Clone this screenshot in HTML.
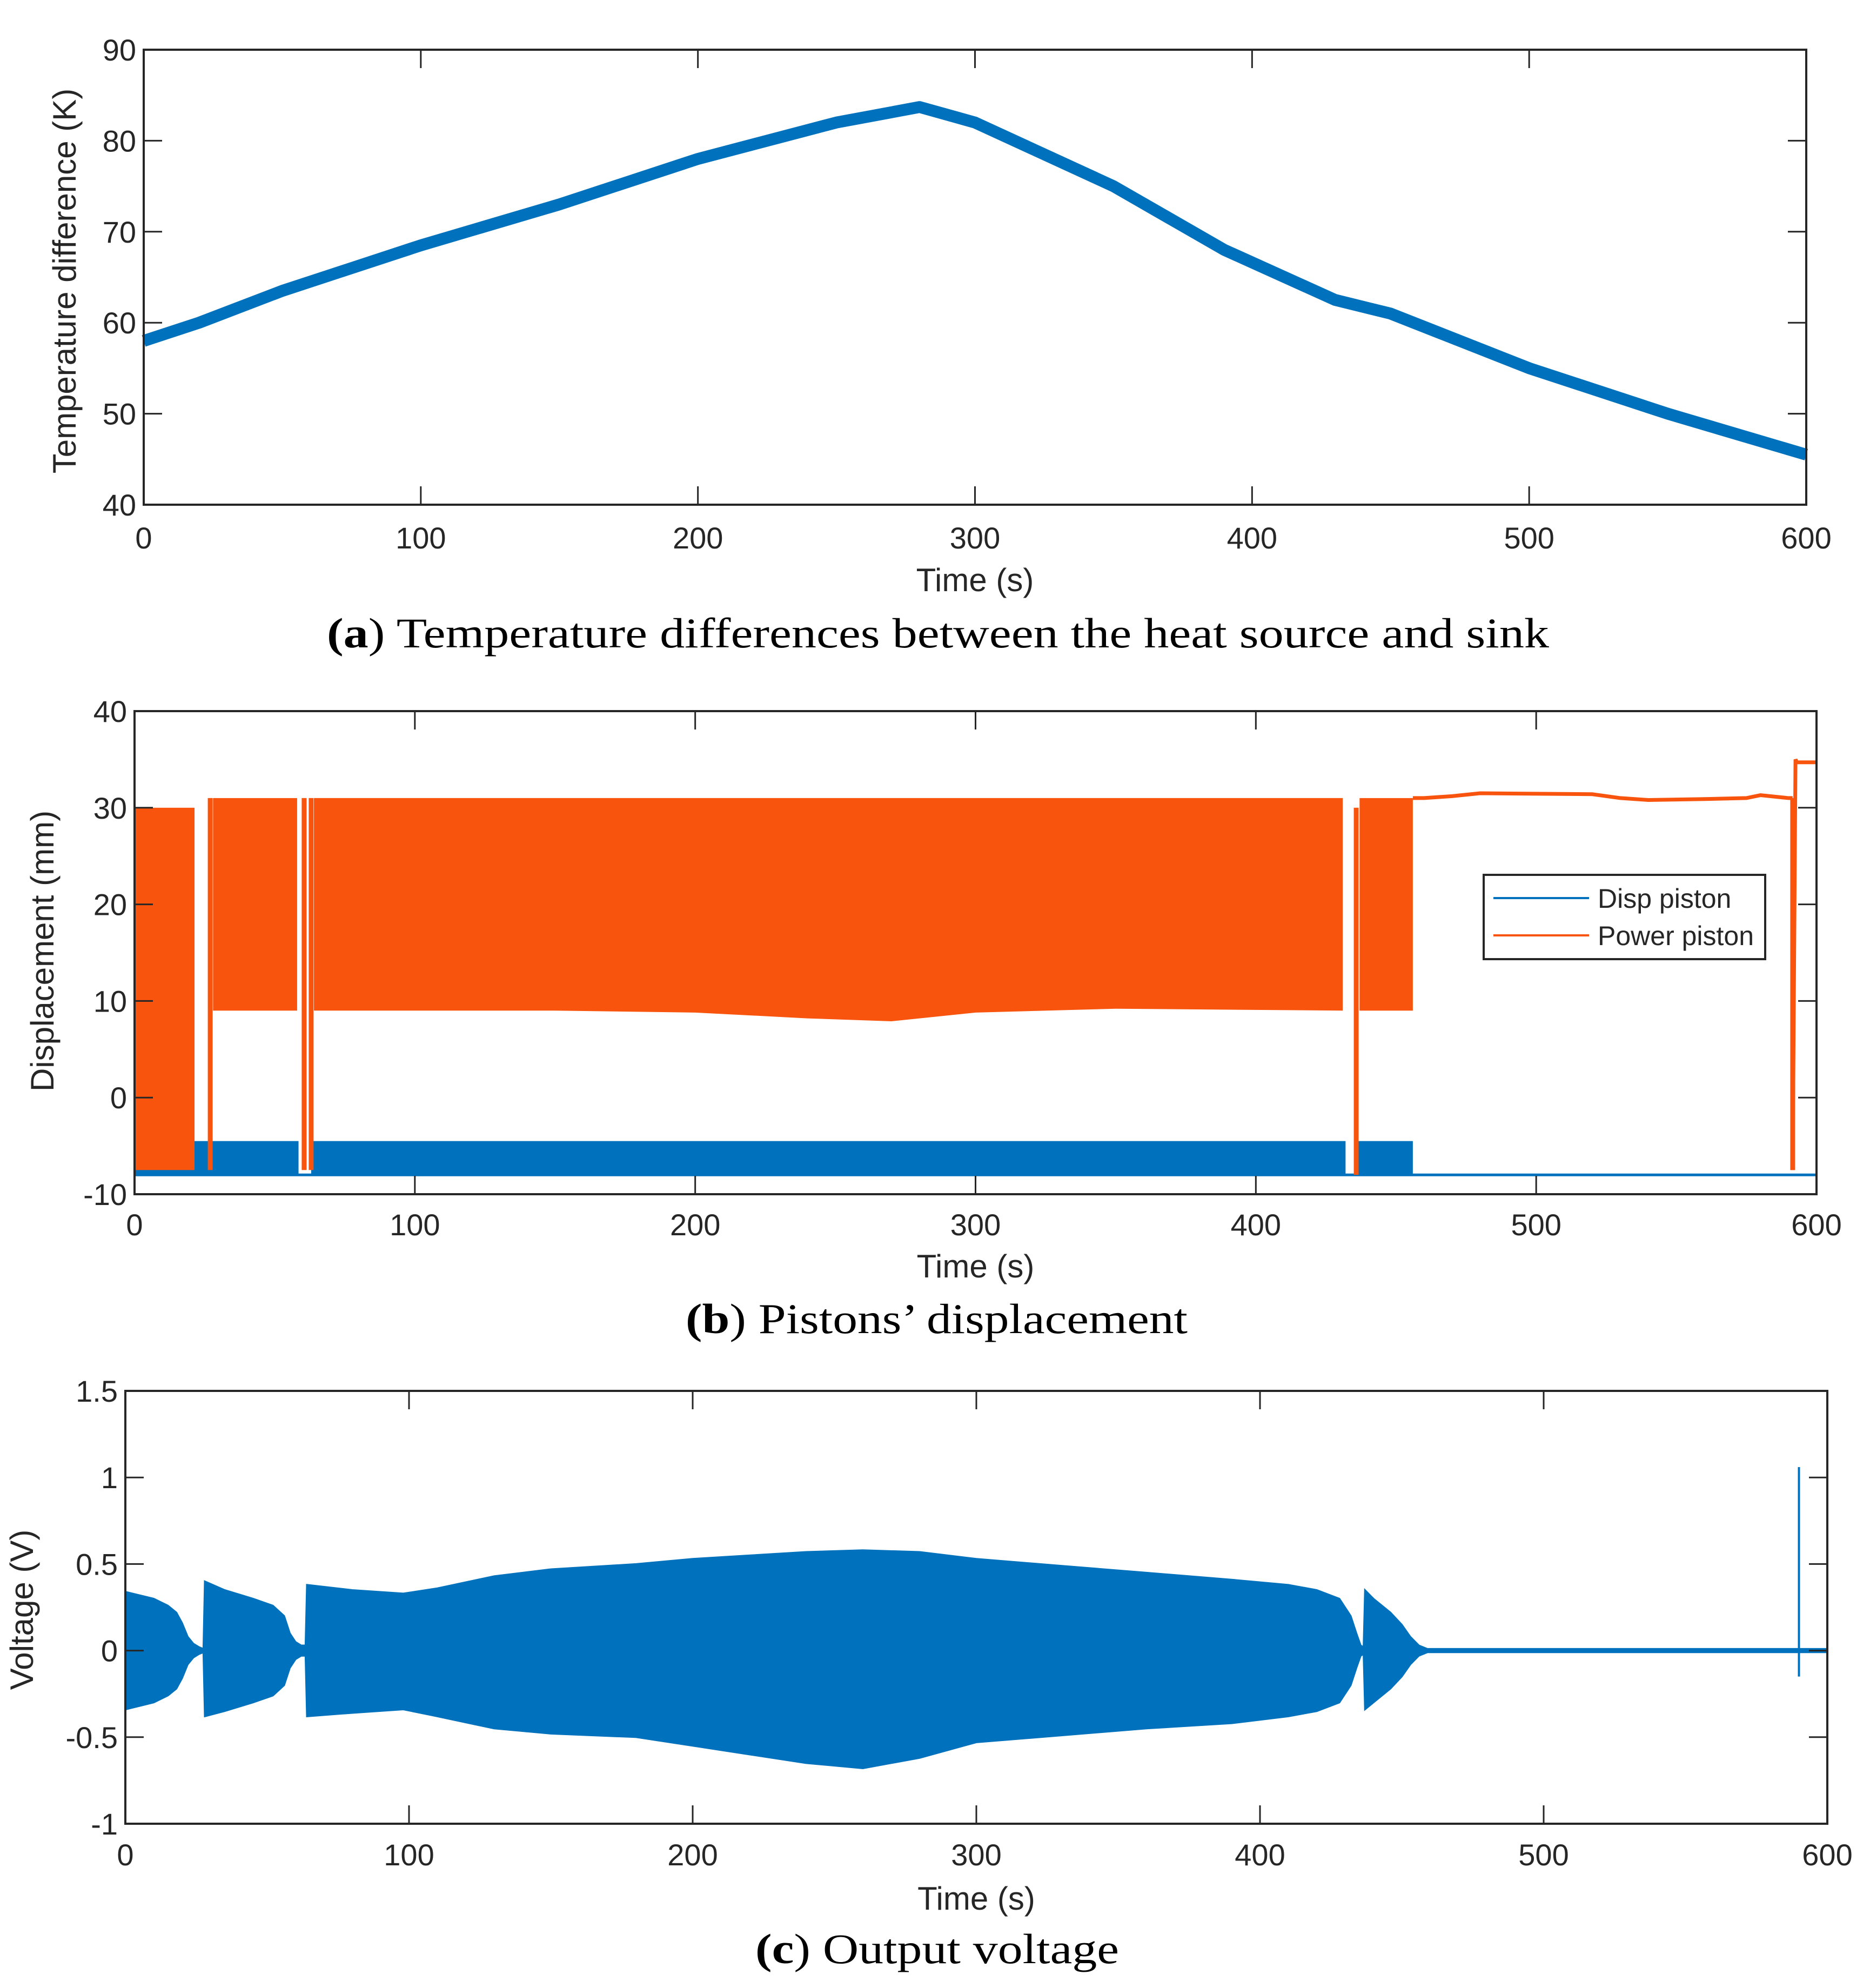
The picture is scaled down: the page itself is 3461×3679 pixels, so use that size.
<!DOCTYPE html>
<html><head><meta charset="utf-8"><style>
html,body{margin:0;padding:0;background:#fff;}
svg{display:block;}
text{font-family:"Liberation Sans",Arial,sans-serif;fill:#262626;}
.cap{font-family:"Liberation Serif",serif;fill:#000;font-size:78px;}
</style></head><body>
<svg id="fig" width="3461" height="3679" viewBox="0 0 3461 3679" xmlns="http://www.w3.org/2000/svg">
<rect width="3461" height="3679" fill="#fff"/>
<g id="pa"></g>
<g id="pb"></g>
<g id="pc"></g>
<text class="cap" x="605" y="1198" textLength="2262" lengthAdjust="spacingAndGlyphs"><tspan font-weight="bold">(a</tspan>) Temperature differences between the heat source and sink</text>
<text class="cap" x="1269" y="2467" textLength="929" lengthAdjust="spacingAndGlyphs"><tspan font-weight="bold">(b</tspan>) Pistons’ displacement</text>
<text class="cap" x="1398" y="3633" textLength="673" lengthAdjust="spacingAndGlyphs"><tspan font-weight="bold">(c</tspan>) Output voltage</text>
</svg>
<script>
// ---- Panel A data ----
const aTime = [0,20,50,100,150,200,250,280,300,350,390,430,450,500,550,600];
const aTemp = [58,60,63.5,68.5,73,78,82,83.7,82,75,68,62.5,61,55,50,45.5];
const aXTicks = [0,100,200,300,400,500,600];
const aYTicks = [40,50,60,70,80,90];
// ---- Panel B data ----
const bPowerSegStart = [0,28,437];
const bPowerSegEnd = [21.4,58,456];
const bPowerSegHi = [30,31,31];
const bPowerSegLo = [-7.5,9,9];
const bPowerMidT = [64,150,200,240,270,300,350,431];
const bPowerMidLo = [9,9,8.8,8.2,7.9,8.8,9.2,9];
const bPowerMidHi = [31,31,31,31,31,31,31,31];
const bPowerSpikeT = [27,60.5,63,435.8,591.5];
const bPowerSpikeLo = [-7.5,-7.5,-7.5,-8,-7.5];
const bPowerSpikeHi = [31,31,31,30,31];
const bPowerTailT = [456,460,470,480,520,530,540,560,575,580,590,591.5];
const bPowerTailV = [31,31,31.2,31.5,31.4,31,30.8,30.9,31,31.3,31,31];
const bPowerEndT = [592.5,593,600];
const bPowerEndV = [35,34.7,34.7];
const bDispSegStart = [0,63,436];
const bDispSegEnd = [58.5,432,456];
const bDispHi = [-4.5,-4.5,-4.5];
const bDispLo = [-8,-8,-8];
const bDispLineT = [0,456,600];
const bDispLineV = [-8,-8,-8];
const bXTicks = [0,100,200,300,400,500,600];
const bYTicks = [-10,0,10,20,30,40];
// ---- Panel C data ----
const cTime = [0,5,10,15,18,20,22,24,26,27.5,28,35,45,52,56,58,60,62,63.5,64,80,98,110,130,150,180,200,220,240,260,280,300,330,360,390,410,420,428,432,434,435.5,436.5,437,440,446,450,453,456,459,462,600];
const cUpper = [0.34,0.32,0.3,0.26,0.22,0.16,0.08,0.04,0.02,0.01,0.4,0.35,0.3,0.26,0.2,0.1,0.05,0.03,0.03,0.38,0.35,0.33,0.36,0.43,0.47,0.5,0.53,0.55,0.57,0.58,0.57,0.53,0.49,0.45,0.41,0.38,0.35,0.3,0.2,0.1,0.03,0.02,0.35,0.3,0.22,0.15,0.08,0.03,0.01,0.01,0.01];
const cLower = [-0.34,-0.32,-0.3,-0.26,-0.22,-0.16,-0.08,-0.04,-0.02,-0.01,-0.38,-0.35,-0.3,-0.26,-0.2,-0.1,-0.05,-0.03,-0.03,-0.38,-0.36,-0.34,-0.38,-0.45,-0.48,-0.5,-0.55,-0.6,-0.65,-0.68,-0.62,-0.53,-0.49,-0.45,-0.42,-0.38,-0.35,-0.3,-0.2,-0.1,-0.03,-0.02,-0.34,-0.3,-0.22,-0.15,-0.08,-0.03,-0.01,-0.01,-0.01];
const cSpikeT = [590];
const cSpikeLo = [-0.15];
const cSpikeHi = [1.06];
const cXTicks = [0,100,200,300,400,500,600];
const cYTicks = [-1,-0.5,0,0.5,1,1.5];
const cYLabels = ["-1","-0.5","0","0.5","1","1.5"];

const NS = "http://www.w3.org/2000/svg";
const BLUE = "#0072BD", ORANGE = "#F9540E";
function mk(parent, tag, attrs){
  const e = document.createElementNS(NS, tag);
  for (const k in attrs) e.setAttribute(k, attrs[k]);
  parent.appendChild(e); return e;
}
function scale(d0,d1,r0,r1){ return v => r0 + (v-d0)*(r1-r0)/(d1-d0); }

function axes(g, L, R, T, B, xs, ys, xT, yT, yLab, xlabY, xtickY, ylabX, ylabCY, ylabText){
  xT.forEach(v=>{
    const x = xs(v);
    const t1 = mk(g,'line',{x1:x,x2:x,y1:B,y2:B-34,stroke:'#262626','stroke-width':3});
    
    
    const t2 = mk(g,'line',{x1:x,x2:x,y1:T,y2:T+34,stroke:'#262626','stroke-width':3});
    
    
    const tx = mk(g,'text',{x:x,y:xtickY,'font-size':56,'text-anchor':'middle'});
    tx.textContent = v;
    
    
  });
  yT.forEach((v,i)=>{
    const y = ys(v);
    const t1 = mk(g,'line',{x1:L,x2:L+34,y1:y,y2:y,stroke:'#262626','stroke-width':3});
    
    
    const t2 = mk(g,'line',{x1:R,x2:R-34,y1:y,y2:y,stroke:'#262626','stroke-width':3});
    
    
    const tx = mk(g,'text',{x:L-14,y:y+20,'font-size':56,'text-anchor':'end'});
    tx.textContent = yLab ? yLab[i] : v;
    
    
  });
  const box = mk(g,'rect',{x:L,y:T,width:R-L,height:B-T,fill:'none',stroke:'#262626','stroke-width':4});
  
  
  const xl = mk(g,'text',{x:(L+R)/2,y:xlabY,'font-size':60,'text-anchor':'middle'});
  xl.textContent = 'Time (s)';
  
  
  const yl = mk(g,'text',{x:ylabX,y:ylabCY,'font-size':60,'text-anchor':'middle',transform:`rotate(-90 ${ylabX} ${ylabCY})`});
  yl.textContent = ylabText;
  
  
}

// ---- Panel A ----
(function(){
  const g = document.getElementById('pa');
  const L=266,R=3343,T=92,B=934;
  const xs = scale(0,600,L,R), ys = scale(40,90,B,T);
  const pts = aTime.map((t,i)=>xs(t)+','+ys(aTemp[i])).join(' ');
  const pl = mk(g,'polyline',{points:pts,fill:'none',stroke:BLUE,'stroke-width':22,'stroke-linejoin':'round'});
  
  
  axes(g,L,R,T,B,xs,ys,aXTicks,aYTicks,null,1094,1015,140,520,'Temperature difference (K)');
})();

// ---- Panel B ----
(function(){
  const g = document.getElementById('pb');
  const L=249,R=3362,T=1316,B=2210;
  const xs = scale(0,600,L,R), ys = scale(-10,40,B,T);
  const clip = mk(g,'clipPath',{id:'clipb'});
  mk(clip,'rect',{x:L,y:T,width:R-L,height:B-T});
  const dg = mk(g,'g',{'clip-path':'url(#clipb)'});
  const bl = mk(dg,'polyline',{points:bDispLineT.map((t,i)=>xs(t)+','+ys(bDispLineV[i])).join(' '),fill:'none',stroke:BLUE,'stroke-width':5});
  
  
  bDispSegStart.forEach((s,i)=>{
    const r = mk(dg,'rect',{x:xs(s),y:ys(bDispHi[i]),width:xs(bDispSegEnd[i])-xs(s),height:ys(bDispLo[i])-ys(bDispHi[i]),fill:BLUE});
    
    
  });
  bPowerSegStart.forEach((s,i)=>{
    const r = mk(dg,'rect',{x:xs(s),y:ys(bPowerSegHi[i]),width:xs(bPowerSegEnd[i])-xs(s),height:ys(bPowerSegLo[i])-ys(bPowerSegHi[i]),fill:ORANGE});
    
    
  });
  const up = bPowerMidT.map((t,i)=>xs(t)+','+ys(bPowerMidHi[i]));
  const lo = bPowerMidT.map((t,i)=>xs(t)+','+ys(bPowerMidLo[i])).reverse();
  const mid = mk(dg,'polygon',{points:up.concat(lo).join(' '),fill:ORANGE});
  
  
  bPowerSpikeT.forEach((t,i)=>{
    const l = mk(dg,'line',{x1:xs(t),x2:xs(t),y1:ys(bPowerSpikeLo[i]),y2:ys(bPowerSpikeHi[i]),stroke:ORANGE,'stroke-width':9});
    
    
  });
  const tail = mk(dg,'polyline',{points:bPowerTailT.map((t,i)=>xs(t)+','+ys(bPowerTailV[i])).join(' '),fill:'none',stroke:ORANGE,'stroke-width':7});
  
  
  const endl = mk(dg,'polyline',{points:[xs(591.5)+','+ys(-7.5)].concat(bPowerEndT.map((t,i)=>xs(t)+','+ys(bPowerEndV[i]))).join(' '),fill:'none',stroke:ORANGE,'stroke-width':7});
  
  
  axes(g,L,R,T,B,xs,ys,bXTicks,bYTicks,null,2364,2286,99,1760,'Displacement (mm)');
  const lg = mk(g,'g',{});
  
  
  mk(lg,'rect',{x:2746,y:1619,width:521,height:156,fill:'#fff',stroke:'#262626','stroke-width':4});
  const e1 = mk(lg,'line',{x1:2764,x2:2941,y1:1662,y2:1662,stroke:BLUE,'stroke-width':4});
  
  
  const t1 = mk(lg,'text',{x:2957,y:1680,'font-size':50,fill:'#000'});
  t1.textContent='Disp piston';
  
  
  const e2 = mk(lg,'line',{x1:2764,x2:2941,y1:1731,y2:1731,stroke:ORANGE,'stroke-width':4});
  
  
  const t2 = mk(lg,'text',{x:2957,y:1749,'font-size':50,fill:'#000'});
  t2.textContent='Power piston';
  
  
})();

// ---- Panel C ----
(function(){
  const g = document.getElementById('pc');
  const L=232,R=3382,T=2574,B=3375;
  const xs = scale(0,600,L,R), ys = scale(-1,1.5,B,T);
  const up = cTime.map((t,i)=>xs(t)+','+ys(cUpper[i]));
  const lo = cTime.map((t,i)=>xs(t)+','+ys(cLower[i])).reverse();
  const p = mk(g,'polygon',{points:up.concat(lo).join(' '),fill:BLUE,stroke:BLUE,'stroke-width':3});
  
  
  cSpikeT.forEach((t,i)=>{
    const l = mk(g,'line',{x1:xs(t),x2:xs(t),y1:ys(cSpikeLo[i]),y2:ys(cSpikeHi[i]),stroke:BLUE,'stroke-width':4});
    
    
  });
  axes(g,L,R,T,B,xs,ys,cXTicks,cYTicks,cYLabels,3534,3452,61,2979,'Voltage (V)');
})();
</script>
</body></html>
